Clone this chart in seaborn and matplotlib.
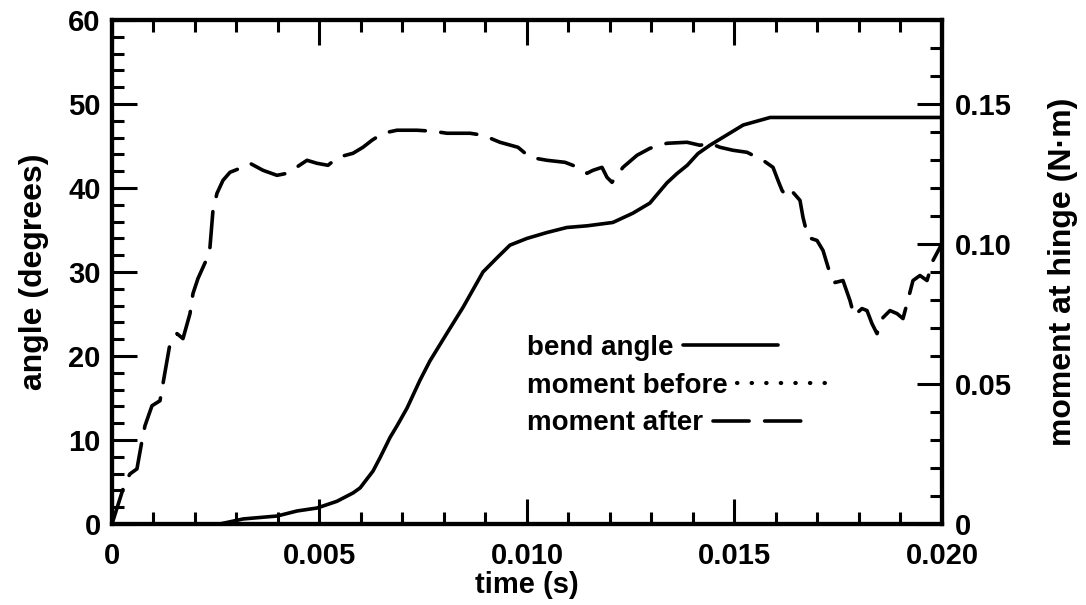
import matplotlib
matplotlib.use("Agg")
import matplotlib.pyplot as plt
from matplotlib.lines import Line2D
from matplotlib.ticker import MultipleLocator
import pandas as pd
import seaborn as sns

# Bend angle of the hinge (degrees) against time (s)
time_bend = [0.0, 0.0026, 0.00316, 0.00398, 0.00446, 0.00494, 0.00542, 0.00581,
             0.00598, 0.00615, 0.00629, 0.00646, 0.0067, 0.00687, 0.00711, 0.00742,
             0.00766, 0.00807, 0.00846, 0.00894, 0.00928, 0.00959, 0.0100, 0.01048,
             0.01096, 0.01145, 0.01207, 0.01255, 0.01296, 0.01337, 0.01361, 0.01386,
             0.01412, 0.01441, 0.01521, 0.01586, 0.0200]
bend_angle = [0.0, 0.0, 0.6, 0.95, 1.55, 1.9, 2.7, 3.7,
              4.3, 5.4, 6.3, 7.9, 10.3, 11.7, 13.8, 17.1,
              19.4, 22.7, 25.8, 30.0, 31.7, 33.2, 34.0, 34.7,
              35.3, 35.5, 35.9, 37.0, 38.2, 40.6, 41.7, 42.7,
              44.1, 45.1, 47.5, 48.4, 48.4]

# Moment at the hinge after the event (N·m) against time (s)
time_moment = [0.0, 0.000313, 0.000434, 0.000602, 0.000723, 0.000795, 0.000964, 0.001157,
               0.001229, 0.001398, 0.001566, 0.001711, 0.00188, 0.001952, 0.002072, 0.002289,
               0.002361, 0.002434, 0.00253, 0.002675, 0.002843, 0.003084, 0.003325, 0.003639,
               0.003976, 0.004217, 0.00441, 0.004699, 0.00494, 0.005205, 0.005446, 0.005807,
               0.006048, 0.006265, 0.00653, 0.006867, 0.007349, 0.007735, 0.008072, 0.008627,
               0.00894, 0.009349, 0.009783, 0.010072, 0.010482, 0.010916, 0.011229, 0.011446,
               0.01159, 0.011807, 0.011928, 0.012048, 0.012313, 0.012651, 0.012964, 0.013373,
               0.013855, 0.014169, 0.01441, 0.014651, 0.014964, 0.015301, 0.015687, 0.015928,
               0.016048, 0.016145, 0.016265, 0.01641, 0.016578, 0.016651, 0.016771, 0.016988,
               0.017133, 0.017301, 0.017422, 0.017614, 0.017783, 0.01788, 0.018072, 0.018193,
               0.018313, 0.018434, 0.018578, 0.018747, 0.018916, 0.01906, 0.019157, 0.019301,
               0.01947, 0.019639, 0.019783, 0.019976]
moment_after = [0.0, 0.01467, 0.01789, 0.01968, 0.02970, 0.03507, 0.04223, 0.04402,
                0.05010, 0.06441, 0.06799, 0.06620, 0.07515, 0.08231, 0.08767, 0.09483,
                0.09877, 0.11201, 0.11809, 0.12274, 0.12561, 0.12704, 0.12883, 0.12632,
                0.12453, 0.12525, 0.12704, 0.12990, 0.12883, 0.12811, 0.13097, 0.13240,
                0.13455, 0.13706, 0.13956, 0.14064, 0.14064, 0.14028, 0.13956, 0.13956,
                0.13885, 0.13634, 0.13455, 0.13097, 0.12990, 0.12918, 0.12739, 0.12525,
                0.12632, 0.12739, 0.12382, 0.12203, 0.12739, 0.13169, 0.13419, 0.13598,
                0.13634, 0.13527, 0.13598, 0.13455, 0.13348, 0.13276, 0.12990, 0.12739,
                0.12274, 0.11916, 0.11666, 0.11845, 0.11559, 0.10950, 0.10234, 0.10127,
                0.09769, 0.08946, 0.08624, 0.08696, 0.07980, 0.07443, 0.07694, 0.07622,
                0.07157, 0.06799, 0.07372, 0.07622, 0.07515, 0.07336, 0.07873, 0.08696,
                0.08875, 0.08696, 0.09411, 0.09948]

x_ticks = [0.0, 0.005, 0.010, 0.015, 0.020]
x_tick_labels = ["0", "0.005", "0.010", "0.015", "0.020"]
angle_ticks = [0, 10, 20, 30, 40, 50, 60]
angle_tick_labels = ["0", "10", "20", "30", "40", "50", "60"]
moment_ticks = [0.0, 0.05, 0.10, 0.15]
moment_tick_labels = ["0", "0.05", "0.10", "0.15"]
series_labels = ["bend angle", "moment before", "moment after"]

sns.set_style("ticks")
plt.rcParams["font.family"] = ["Liberation Sans", "DejaVu Sans"]
plt.rcParams["font.weight"] = "bold"
plt.rcParams["axes.labelweight"] = "bold"
plt.rcParams["text.color"] = "black"
plt.rcParams["axes.labelcolor"] = "black"

bend_df = pd.DataFrame({"time": time_bend, "angle": bend_angle})
moment_df = pd.DataFrame({"time": time_moment, "moment": moment_after})

fig = plt.figure(figsize=(10.86, 6.05), dpi=100)
ax = fig.add_axes([0.1031, 0.1339, 0.7643, 0.8330])
ax2 = ax.twinx()

LW = 2.6
sns.lineplot(data=bend_df, x="time", y="angle", ax=ax, color="black",
             linewidth=LW, solid_capstyle="round", solid_joinstyle="round")
dash_style = (0, (10, 4.3))
sns.lineplot(data=moment_df, x="time", y="moment", ax=ax2, color="black",
             linewidth=LW, linestyle=dash_style, dash_capstyle="round",
             dash_joinstyle="round")

ax.set_xlim(0, 0.020)
ax.set_ylim(0, 60)
ax2.set_ylim(0, 0.18)

ax.set_xticks(x_ticks, x_tick_labels)
ax.set_yticks(angle_ticks, angle_tick_labels)
ax2.set_yticks(moment_ticks, moment_tick_labels)
ax.xaxis.set_minor_locator(MultipleLocator(0.001))
ax.yaxis.set_minor_locator(MultipleLocator(2))
ax2.yaxis.set_minor_locator(MultipleLocator(0.01))

for a in (ax, ax2):
    for s in a.spines.values():
        s.set_linewidth(3)
        s.set_color("black")

ax.tick_params(which="both", direction="in", top=True, bottom=True,
               left=True, right=False, width=2.2, color="black",
               labelsize=21, labelcolor="black")
ax.tick_params(which="major", length=18)
ax.tick_params(which="minor", length=8.6)
ax.tick_params(axis="x", pad=13)
ax.tick_params(axis="y", pad=8)
ax2.tick_params(which="both", direction="in", right=True, left=False,
                top=False, bottom=False, width=2.2, color="black",
                labelsize=21, labelcolor="black", pad=9)
ax2.tick_params(which="major", length=18)
ax2.tick_params(which="minor", length=8.6)

ax.set_xlabel("time (s)", fontsize=21, labelpad=1, color="black")
ax.set_ylabel("angle (degrees)", fontsize=23, labelpad=14, color="black")
ax2.set_ylabel("moment at hinge (N·m)", fontsize=23, labelpad=26, color="black")

handles = [
    Line2D([], [], color="black", linewidth=LW, solid_capstyle="round"),
    Line2D([], [], color="black", linewidth=3.0, linestyle=(0, (0.1, 3.4)),
           dash_capstyle="round"),
    Line2D([], [], color="black", linewidth=LW, linestyle=dash_style,
           dash_capstyle="round"),
]
leg = ax2.legend(handles, series_labels, loc="upper left",
                 bbox_to_anchor=(0.5, 0.375), frameon=False, markerfirst=False,
                 handlelength=3.4, handletextpad=0.35, labelspacing=0.42,
                 borderpad=0, borderaxespad=0, fontsize=20,
                 labelcolor="black")
for col in leg._legend_handle_box.get_children():
    col.align = "left"

fig.savefig("out.png", dpi=100, facecolor="white")
